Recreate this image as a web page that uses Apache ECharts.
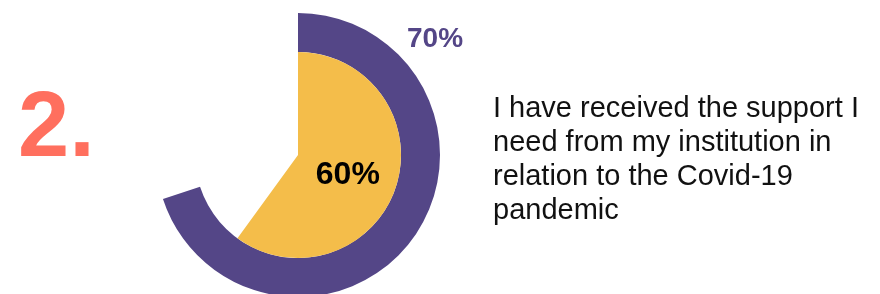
<!DOCTYPE html>
<html>
<head>
<meta charset="utf-8">
<script src="https://cdn.jsdelivr.net/npm/echarts@6/dist/echarts.min.js"></script>
<style>
  html, body { margin: 0; padding: 0; background: #fff; }
  #main { width: 880px; height: 294px; }
</style>
</head>
<body>
<div id="main"></div>
<script>
// values
var outerValue = 70;   // purple ring
var innerValue = 60;   // yellow pie
var itemNumber = '2.';
var questionLines = [
    'I have received the support I',
    'need from my institution in',
    'relation to the Covid-19',
    'pandemic'
];

var purple = '#544687';
var yellow = '#f4bd4a';
var coral = '#ff6f5e';
var fontFam = 'Liberation Sans, Arial, sans-serif';

var chart = echarts.init(document.getElementById('main'));

var option = {
    backgroundColor: '#fff',
    animation: false,
    graphic: [
        {
            type: 'text',
            left: 18,
            top: 85,
            style: {
                text: itemNumber,
                fill: coral,
                fontFamily: fontFam,
                fontWeight: 'bold',
                fontSize: 92
            }
        },
        {
            type: 'text',
            left: 407,
            top: 25,
            style: {
                text: outerValue + '%',
                fill: purple,
                fontFamily: fontFam,
                fontWeight: 'bold',
                fontSize: 28
            }
        },
        {
            type: 'text',
            left: 493,
            top: 92,
            style: {
                text: questionLines.join('\n'),
                fill: '#111',
                fontFamily: fontFam,
                fontSize: 29,
                lineHeight: 34
            }
        }
    ],
    series: [
        {
            type: 'pie',
            center: [298, 155],
            radius: [103, 142],
            startAngle: 90,
            clockwise: true,
            silent: true,
            label: { show: false },
            labelLine: { show: false },
            data: [
                { value: outerValue, itemStyle: { color: purple } },
                { value: 100 - outerValue, itemStyle: { color: 'rgba(0,0,0,0)' } }
            ]
        },
        {
            type: 'pie',
            center: [298, 155],
            radius: [0, 103],
            startAngle: 90,
            clockwise: true,
            silent: true,
            labelLine: { show: false },
            data: [
                {
                    value: innerValue,
                    itemStyle: { color: yellow },
                    label: {
                        show: true,
                        position: 'inside',
                        formatter: '{c}%',
                        color: '#000',
                        fontWeight: 'bold',
                        fontSize: 32,
                        fontFamily: fontFam,
                        offset: [-2, 3]
                    }
                },
                { value: 100 - innerValue, itemStyle: { color: 'rgba(0,0,0,0)' }, label: { show: false } }
            ]
        }
    ]
};

chart.setOption(option);
</script>
</body>
</html>
